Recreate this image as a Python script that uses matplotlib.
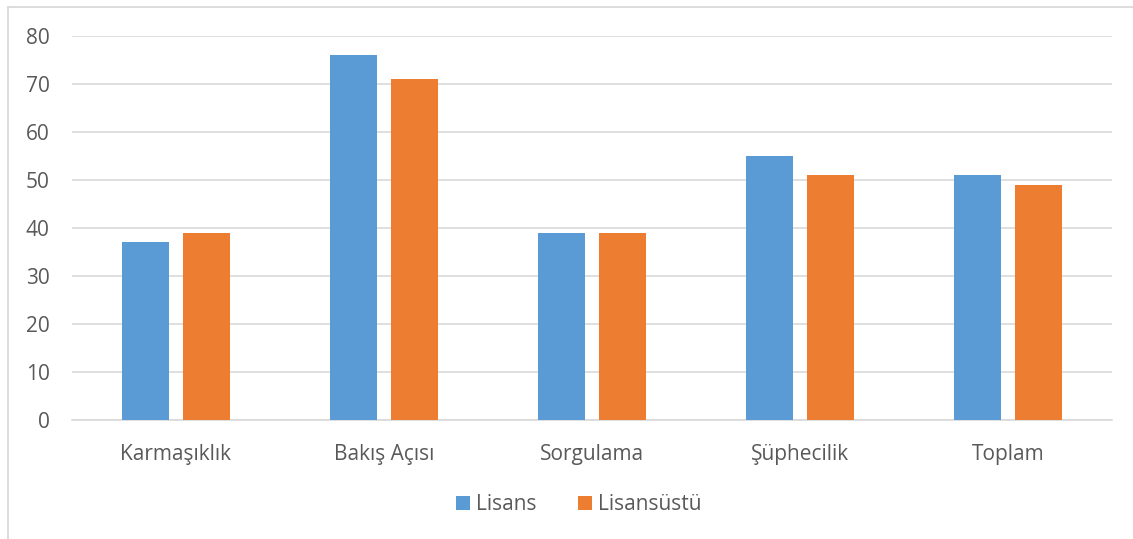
import numpy as np
import matplotlib.pyplot as plt
from matplotlib.patches import Rectangle

categories = ["Karmaşıklık", "Bakış Açısı", "Sorgulama", "Şüphecilik", "Toplam"]
lisans = [37, 76, 39, 55, 51]
lisansustu = [39, 71, 39, 51, 49]
yticks = [0, 10, 20, 30, 40, 50, 60, 70, 80]

plt.rcParams["font.family"] = ["Open Sans", "DejaVu Sans"]
text_col = "#595959"

W, H = 1133, 539
fig = plt.figure(figsize=(W / 100, H / 100), dpi=100)
ax = fig.add_axes([72 / W, 1 - 420 / H, (1112 - 72) / W, (420 - 36) / H])

x = np.arange(len(categories))
bw = 0.226
gap = 0.063
ax.bar(x - (bw + gap) / 2, lisans, bw, color="#5B9BD5", label="Lisans", zorder=3)
ax.bar(x + (bw + gap) / 2, lisansustu, bw, color="#ED7D31", label="Lisansüstü", zorder=3)

ax.set_xlim(-0.5, len(categories) - 0.5)
ax.set_ylim(0, 80)
ax.set_yticks(yticks)
ax.set_xticks(x)
ax.set_xticklabels(categories)
ax.yaxis.grid(True, color="#D9D9D9", linewidth=1.2, zorder=0)
ax.tick_params(axis="both", length=0, labelsize=15, colors=text_col)
ax.tick_params(axis="y", pad=16)
ax.tick_params(axis="x", pad=17)
for side in ["top", "right", "left"]:
    ax.spines[side].set_visible(False)
ax.spines["bottom"].set_color("#D9D9D9")
ax.spines["bottom"].set_linewidth(1.2)

leg = fig.legend(loc="center", bbox_to_anchor=(579 / W, 1 - 505 / H), ncol=2,
                 frameon=False, fontsize=15, handlelength=0.65, handleheight=0.65,
                 handletextpad=0.3, columnspacing=2.0)
for t in leg.get_texts():
    t.set_color(text_col)

# chart area border
fig.patches.append(Rectangle((8 / W, -0.1), 1.2, 1 - 7 / H + 0.1, transform=fig.transFigure,
                             fill=False, edgecolor="#D9D9D9", linewidth=1.3))

fig.savefig("out.png", dpi=100)
